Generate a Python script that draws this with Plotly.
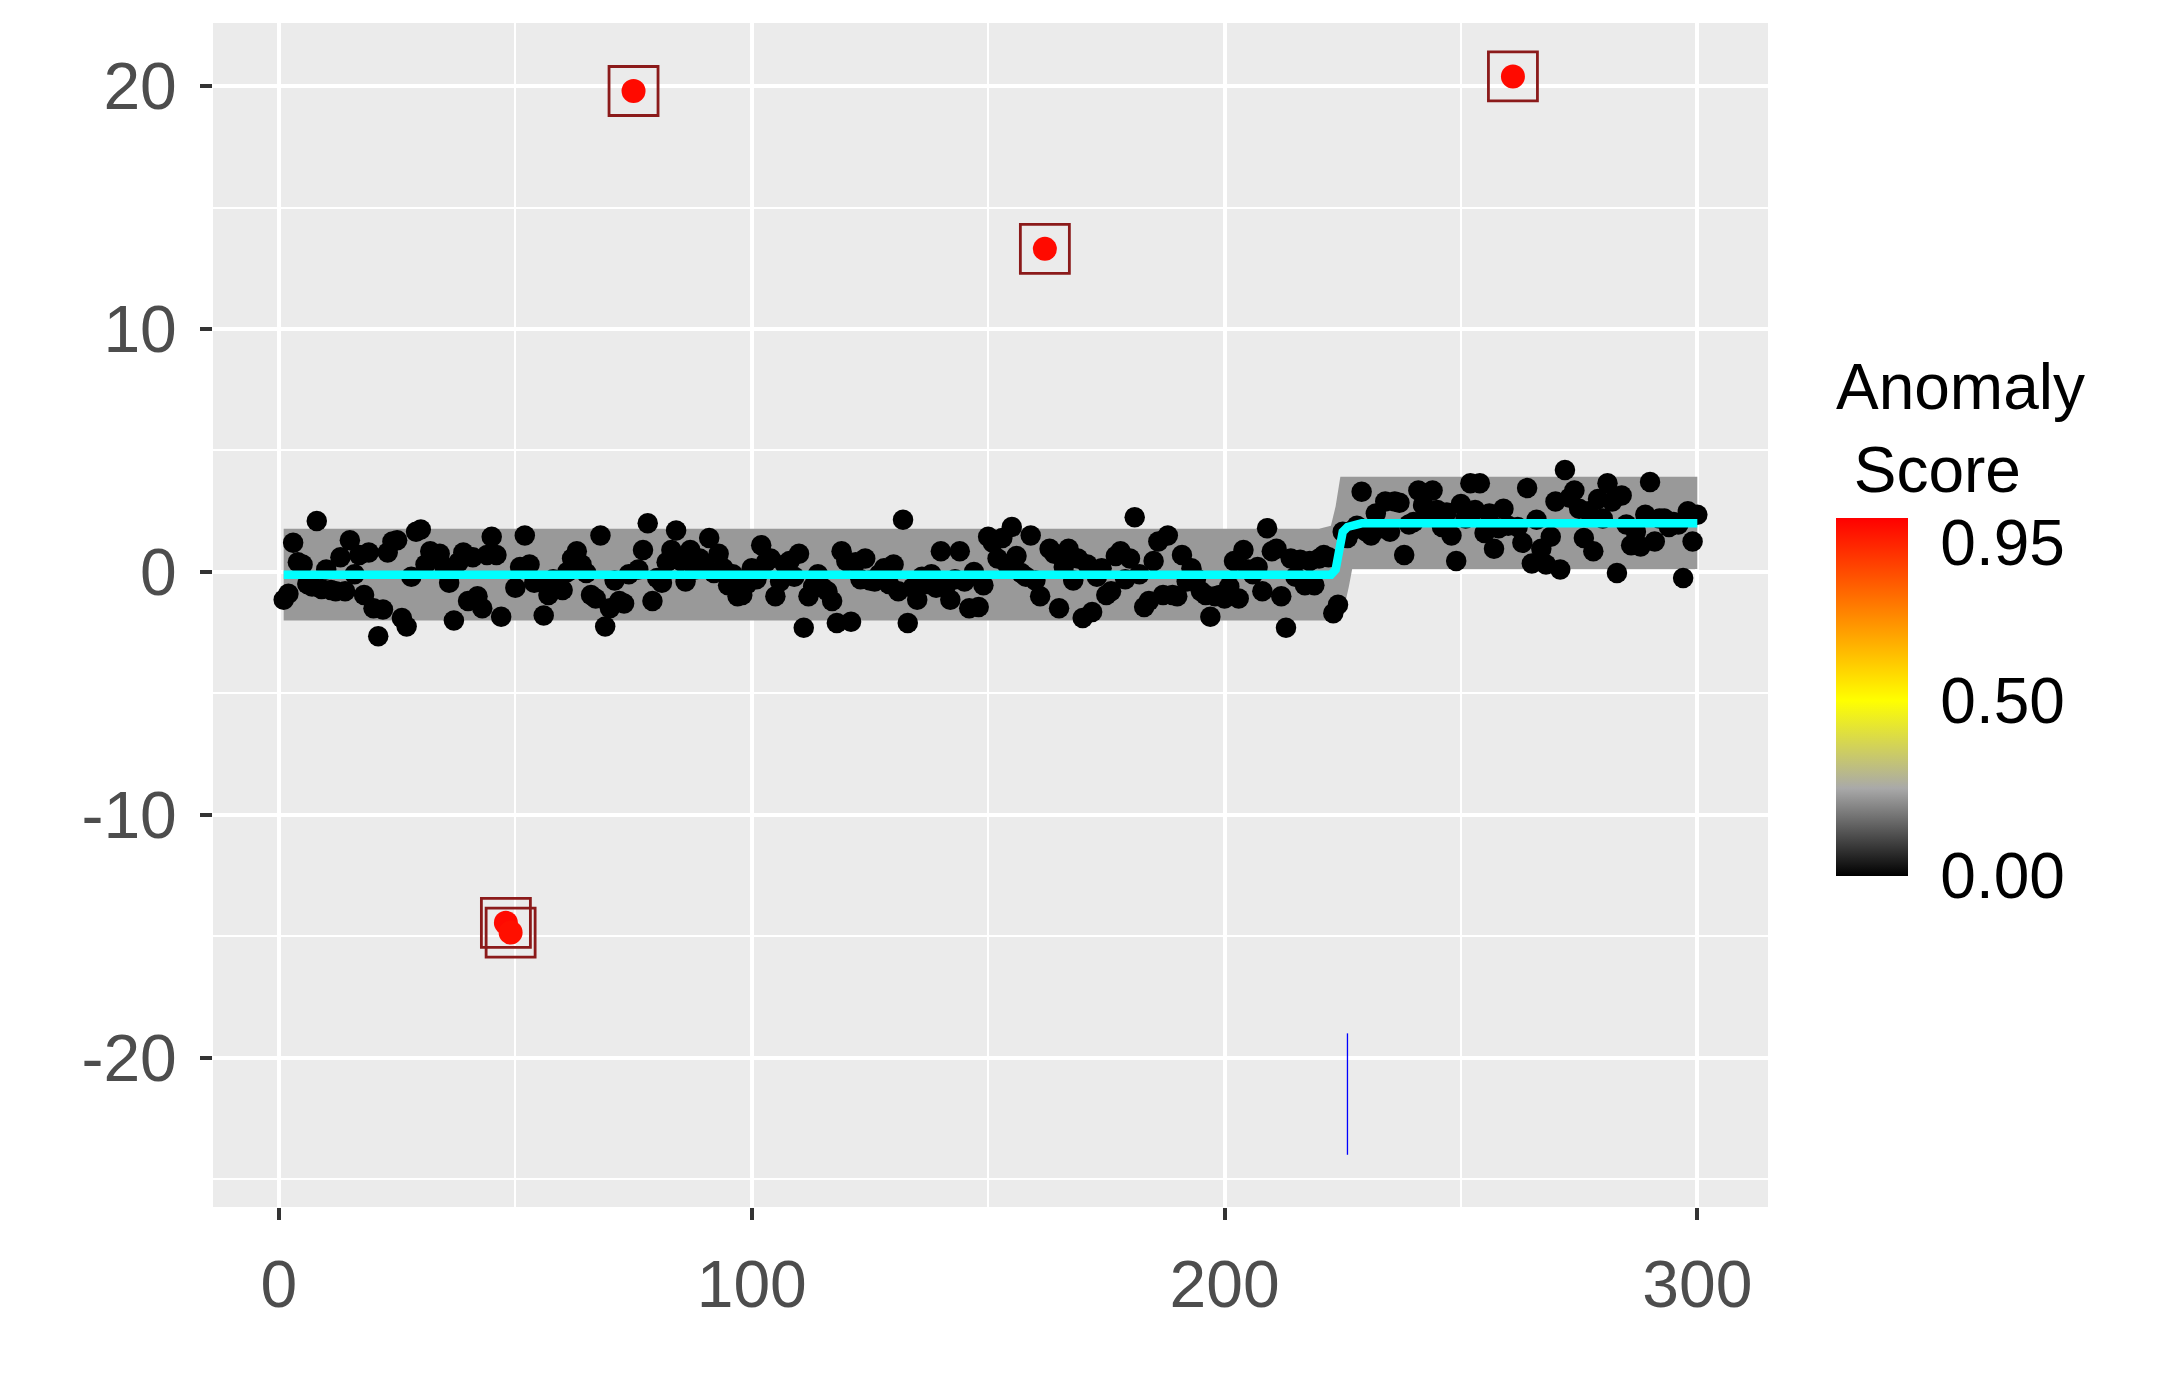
import plotly.graph_objects as go

# observed series, one value per time step 1..300
t = list(range(1, 301))
values = [
    -1.15, -0.9, 1.2, 0.4, 0.3, -0.5, -0.6, 2.1, -0.7, 0.1,
    -0.75, -0.8, 0.6, -0.8, 1.3, -0.1, 0.7, -0.95, 0.8, -1.5,
    -2.65, -1.55, 0.8, 1.25, 1.3, -1.9, -2.25, -0.2, 1.65, 1.75,
    0.3, 0.85, 0.6, 0.75, 0.2, -0.45, -2.0, 0.4, 0.8, -1.2,
    0.6, -1.0, -1.5, 0.7, 1.45, 0.7, -1.85, -14.45, -14.85, -0.65,
    0.2, 1.5, 0.3, -0.45, -0.4, -1.8, -0.95, -0.3, -0.6, -0.75,
    0.0, 0.55, 0.85, 0.3, -0.05, -0.95, -1.1, 1.5, -2.25, -1.5,
    -0.35, -1.2, -1.3, -0.1, 19.8, 0.1, 0.9, 2.0, -1.2, -0.25,
    -0.45, 0.4, 0.9, 1.7, 0.45, -0.4, 0.9, 0.1, 0.55, 0.3,
    1.4, -0.05, 0.75, 0.15, -0.55, -0.1, -1.0, -0.95, -0.5, 0.15,
    -0.3, 1.1, 0.4, 0.55, -1.0, -0.4, 0.3, 0.45, -0.2, 0.75,
    -2.3, -1.0, -0.6, -0.1, -0.65, -0.8, -1.2, -2.1, 0.85, 0.45,
    -2.05, 0.4, -0.3, 0.55, -0.35, -0.4, -0.1, 0.15, -0.5, 0.3,
    -0.8, 2.15, -2.1, -0.65, -1.15, -0.2, -0.5, -0.1, -0.65, 0.85,
    -0.6, -1.15, -0.3, 0.85, -0.4, -1.5, 0.0, -1.45, -0.55, 1.45,
    1.2, 0.55, 1.4, 0.3, 1.85, 0.65, -0.05, -0.2, 1.5, -0.35,
    -1.0, 13.3, 0.95, 0.75, -1.5, 0.2, 0.95, -0.35, 0.55, -1.9,
    0.3, -1.65, -0.2, 0.15, -0.95, -0.8, 0.65, 0.85, -0.3, 0.55,
    2.25, -0.1, -1.45, -1.2, 0.45, 1.25, -0.95, 1.5, -0.95, -1.0,
    0.7, -0.4, 0.15, -0.25, -0.8, -0.95, -1.85, -1.0, -0.95, -1.1,
    -0.6, 0.45, -1.1, 0.9, 0.1, -0.1, 0.2, -0.8, 1.8, 0.85,
    0.95, -1.0, -2.3, 0.55, -0.2, 0.5, -0.55, 0.45, -0.55, 0.55,
    0.7, 0.6, -1.7, -1.35, 1.65, 1.4, 1.7, 1.9, 3.3, 1.65,
    1.5, 2.4, 1.8, 2.9, 1.65, 2.9, 2.85, 0.7, 1.95, 2.05,
    3.35, 2.75, 2.3, 3.35, 2.55, 1.85, 2.45, 1.5, 0.45, 2.8,
    2.2, 3.65, 2.55, 3.65, 1.6, 2.4, 0.95, 1.8, 2.6, 1.9,
    20.4, 1.85, 1.2, 3.45, 0.35, 2.15, 0.95, 0.3, 1.45, 2.9,
    0.1, 4.2, 3.05, 3.35, 2.6, 1.4, 2.5, 0.85, 3.0, 2.2,
    3.65, 2.9, -0.05, 3.15, 1.95, 1.1, 1.65, 1.05, 2.35, 3.7,
    1.25, 2.2, 2.2, 1.85, 2.05, 1.95, -0.25, 2.5, 1.25, 2.35,
]

# flagged anomalies and their scores (all other points score 0)
anomaly_t = [48, 49, 75, 162, 261]
anomaly_score = [1.0, 0.99, 1.0, 1.0, 1.0]

# fitted level and its band
fit_t = [1, 222.5, 223.5, 224, 224.5, 225, 226, 227.5, 229, 300]
fit_y = [-0.12, -0.12, 0.1, 0.7, 1.3, 1.65, 1.85, 1.97, 2.0, 2.0]
upper_t = [1, 220, 222.5, 223.5, 224.5, 300]
upper_y = [1.78, 1.78, 1.9, 2.7, 3.92, 3.92]
lower_t = [1, 223.5, 225.5, 226.3, 227, 300]
lower_y = [-2.0, -2.0, -1.3, -0.6, 0.12, 0.12]

# detected change point marker
change_t = [226, 226]
change_y = [-19, -24]

y_ticks = [-20, -10, 0, 10, 20]
y_ticktext = ['-20', '-10', '0', '10', '20']
x_ticks = [0, 100, 200, 300]

normal_t = [x for x in t if x not in anomaly_t]
normal_y = [values[x - 1] for x in normal_t]
normal_score = [0.0 for _ in normal_t]
anomaly_y = [values[x - 1] for x in anomaly_t]

FONT = "Liberation Sans, Arial, sans-serif"

fig = go.Figure()

fig.add_trace(go.Scatter(
    x=upper_t + lower_t[::-1],
    y=upper_y + lower_y[::-1],
    fill='toself', fillcolor='#999999',
    line=dict(width=0), mode='lines', hoverinfo='skip'
))

fig.add_trace(go.Scatter(
    x=normal_t, y=normal_y, mode='markers',
    marker=dict(size=20.5, color=normal_score, coloraxis='coloraxis')
))

fig.add_trace(go.Scatter(
    x=fit_t, y=fit_y, mode='lines',
    line=dict(color='#00FFFF', width=8.5)
))

fig.add_trace(go.Scatter(
    x=anomaly_t, y=anomaly_y, mode='markers',
    marker=dict(size=24, color=anomaly_score, coloraxis='coloraxis')
))

fig.add_trace(go.Scatter(
    x=anomaly_t, y=anomaly_y, mode='markers',
    marker=dict(symbol='square-open', size=49, color='#8B1A1A',
                line=dict(width=2.8, color='#8B1A1A'))
))

fig.add_trace(go.Scatter(
    x=change_t, y=change_y, mode='lines',
    line=dict(color='#0000FF', width=1.3)
))

axis_common = dict(
    showgrid=True, gridcolor='white', gridwidth=4,
    zeroline=False, showline=False,
    ticks='outside', ticklen=12, tickwidth=4, tickcolor='#333333',
    tickfont=dict(family=FONT, size=66, color='#4D4D4D'),
)

# the page body adds an 8px offset, margins below account for it
fig.update_layout(
    width=2160, height=1386,
    margin=dict(l=205, r=400, t=15, b=187),
    paper_bgcolor='white', plot_bgcolor='#EBEBEB',
    showlegend=False,
    font=dict(family=FONT),
    xaxis=dict(range=[-13.95, 314.95], tickmode='array',
               tickvals=x_ticks, ticklabelstandoff=8,
               minor=dict(tickvals=[50, 150, 250], showgrid=True,
                          gridcolor='white', gridwidth=2, ticks=''),
               **axis_common),
    yaxis=dict(range=[-26.15, 22.6], tickmode='array',
               tickvals=y_ticks, ticktext=y_ticktext, ticklabelstandoff=10,
               minor=dict(tickvals=[-25, -15, -5, 5, 15], showgrid=True,
                          gridcolor='white', gridwidth=2, ticks=''),
               **axis_common),
    coloraxis=dict(
        cmin=0, cmax=1.02,
        colorscale=[[0, '#000000'], [0.245, '#A9A9A9'],
                    [0.49, '#FFFF00'], [1, '#FF0000']],
        colorbar=dict(
            title=dict(text='Anomaly<br>\u00a0Score', side='top',
                       font=dict(family=FONT, size=64, color='black')),
            x=1.0437, xanchor='left', xpad=0,
            y=0.2796, yanchor='bottom', ypad=0,
            thickness=72, len=518, lenmode='pixels',
            outlinewidth=0, borderwidth=0,
            tickmode='array', tickvals=[0, 0.5, 0.95],
            ticktext=['0.00', '0.50', '0.95'],
            ticks='outside', ticklen=20, tickcolor='rgba(0,0,0,0)',
            tickfont=dict(family=FONT, size=64, color='black'),
        ),
    ),
)

fig.write_html("out.html")
